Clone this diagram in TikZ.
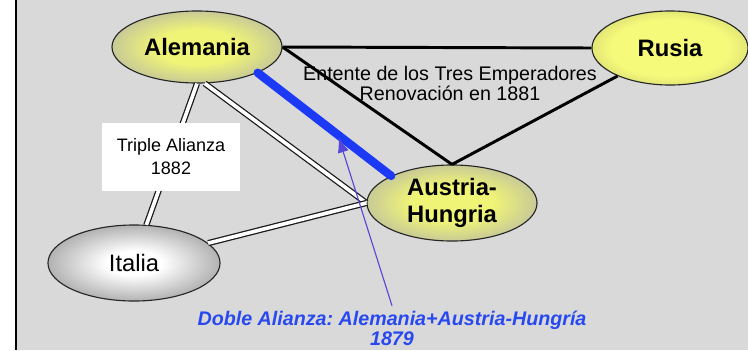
\documentclass[tikz,border=0pt]{standalone}
\usepackage{fontspec}
\setmainfont{Liberation Sans}
\usepackage{tikz}
\usetikzlibrary{arrows.meta}
\usetikzlibrary{shapes.geometric}
\frenchspacing

\definecolor{fondo}{RGB}{217,217,217}
\definecolor{oliva}{RGB}{200,202,150}
\definecolor{amarillo}{RGB}{240,244,118}
\definecolor{amarilloclaro}{RGB}{246,250,122}
\definecolor{amarillosombra}{RGB}{226,230,118}
\definecolor{gris}{RGB}{178,178,178}
\definecolor{azul}{RGB}{28,58,245}
\definecolor{azultexto}{RGB}{40,72,240}
\definecolor{violeta}{RGB}{85,70,215}
\pgfdeclareradialshading{bolaoliva}{\pgfpoint{0bp}{0bp}}{color(0bp)=(amarillo); color(12bp)=(amarillo); color(25bp)=(oliva); color(50bp)=(oliva)}
\pgfdeclareradialshading{bolarusia}{\pgfpoint{0bp}{0bp}}{color(0bp)=(amarilloclaro); color(19bp)=(amarilloclaro); color(25bp)=(amarillosombra); color(50bp)=(amarillosombra)}
\pgfdeclareradialshading{bolagris}{\pgfpoint{0bp}{0bp}}{color(0bp)=(white); color(8bp)=(white); color(25bp)=(gris); color(50bp)=(gris)}

\begin{document}
\begin{tikzpicture}[x=0.025cm, y=-0.025cm,
	pais/.style={ellipse, draw=black!85, line width=0.8pt, inner sep=0pt, align=center, shade, font=\fontsize{16.9}{19.5}\selectfont\bfseries},
	alianza/.style={draw=black!90, line width=0.9pt, double=white, double distance=2.6pt},
	tratado/.style={line width=2.1pt}]
		\useasboundingbox (0,0) rectangle (748,350);
		\fill [fondo] (17,0) rectangle (748,350); % fondo gris
		\draw [line width=1.5pt] (16,0) -- (16,350); % borde izquierdo
		\node [pais, minimum width=4.25cm, minimum height=1.8cm, shading=bolaoliva] (alemania) at (197,47) {Alemania};
		\node [pais, minimum width=3.9cm, minimum height=1.85cm, shading=bolarusia] (rusia) at (670,48) {Rusia};
		\node [pais, minimum width=4.25cm, minimum height=1.9cm, shading=bolaoliva] (austria) at (452,203) {Austria-\\Hungria};
		\node [pais, minimum width=4.3cm, minimum height=1.9cm, shading=bolagris, font=\fontsize{16.9}{19.5}\selectfont] (italia) at (134,263) {Italia};
		\draw [alianza] (alemania.south) -- (italia.72); % Triple Alianza
		\draw [alianza] (alemania.282) -- (austria.west);
		\draw [alianza] (italia.15) -- (austria.west);
		\draw [tratado] (alemania.east) -- (rusia.west); % Tres Emperadores
		\draw [tratado] (alemania.east) -- (austria.north);
		\draw [tratado] (austria.north) -- (rusia);
		\draw [azul, line width=6pt, line cap=round] (alemania.-23) -- coordinate[pos=0.6] (punta) (austria.156); % Doble Alianza
		\node [font=\fontsize{14}{14.2}\selectfont, align=center] (entente) at (450,83) {Entente de los Tres Emperadores\\Renovación en 1881};
		\node [fill=white, minimum width=3.45cm, minimum height=1.68cm, align=center, font=\fontsize{12.8}{16.3}\selectfont] (triple) at (171,157) {Triple Alianza\\1882};
		\node [text=azultexto, align=center, font=\fontsize{14}{14.2}\selectfont\bfseries\itshape] (doble) at (392,328) {Doble Alianza: Alemania+Austria-Hungría\\1879};
		\draw [violeta, line width=0.8pt, arrows={-Latex[length=3.8mm,width=2.8mm]}, shorten >=2pt] (doble.north) -- (punta);
\end{tikzpicture}
\end{document}
